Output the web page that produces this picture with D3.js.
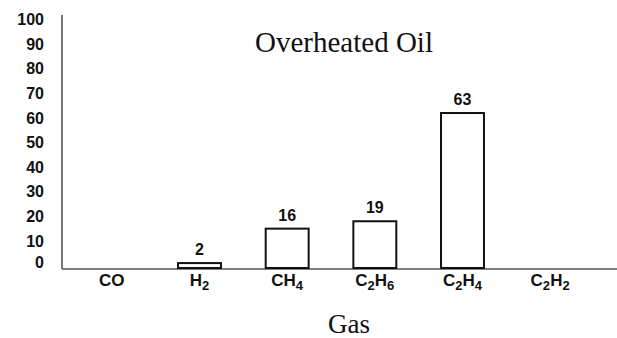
<!DOCTYPE html>
<html>
<head>
<meta charset="utf-8">
<script src="https://cdn.jsdelivr.net/npm/d3@7"></script>
<style>
  html, body { margin: 0; padding: 0; background: #fff; }
  svg { display: block; }
</style>
</head>
<body>
<svg id="chart" width="617" height="338"></svg>
<script>
// Gas names are split into [text, subscript] pieces so the formulas render properly
const gases = [
  [["CO", ""]],
  [["H", "2"]],
  [["CH", "4"]],
  [["C", "2"], ["H", "6"]],
  [["C", "2"], ["H", "4"]],
  [["C", "2"], ["H", "2"]]
];
const gasKeys = ["CO", "H2", "CH4", "C2H6", "C2H4", "C2H2"];
const percents = [null, 2, 16, 19, 63, null];
const yTicks = [0, 10, 20, 30, 40, 50, 60, 70, 80, 90, 100];
const title = "Overheated Oil";
const xTitle = "Gas";

const svg = d3.select("#chart");
const axisX0 = 62, axisY0 = 269;

const x = d3.scaleBand()
  .domain(gasKeys)
  .range([68, 594])
  .paddingInner(0.51)
  .paddingOuter(0.255);

const y = d3.scaleLinear().domain([0, 100]).range([268, 22]);

const sans = "'Liberation Sans', Arial, Helvetica, sans-serif";
const serif = "'Liberation Serif', 'Times New Roman', Times, serif";

// y tick labels (no tick marks, labels sit slightly above their level)
svg.append("g")
  .selectAll("text")
  .data(yTicks)
  .join("text")
  .attr("x", 44)
  .attr("y", d => y(d) - 1 + (d === 0 ? -3 : 0))
  .attr("text-anchor", "end")
  .attr("font-family", sans)
  .attr("font-weight", "bold")
  .attr("font-size", 16)
  .attr("fill", "#111")
  .attr("dominant-baseline", "middle")
  .text(d => d);

// axis lines
svg.append("line")
  .attr("x1", axisX0).attr("x2", axisX0)
  .attr("y1", 15).attr("y2", axisY0)
  .attr("stroke", "#555").attr("stroke-width", 1.6);
svg.append("line")
  .attr("x1", axisX0).attr("x2", 617)
  .attr("y1", axisY0).attr("y2", axisY0)
  .attr("stroke", "#555").attr("stroke-width", 1.6);

// bars
const barData = gasKeys.map((k, i) => ({ key: k, value: percents[i] }))
  .filter(d => d.value !== null);

svg.append("g")
  .selectAll("rect")
  .data(barData)
  .join("rect")
  .attr("x", d => x(d.key))
  .attr("width", x.bandwidth())
  .attr("y", d => y(d.value))
  .attr("height", d => y(0) - y(d.value))
  .attr("fill", "#fff")
  .attr("stroke", "#111")
  .attr("stroke-width", 2);

// value labels
svg.append("g")
  .selectAll("text")
  .data(barData)
  .join("text")
  .attr("x", d => x(d.key) + x.bandwidth() / 2)
  .attr("y", d => y(d.value) - 8)
  .attr("text-anchor", "middle")
  .attr("font-family", sans)
  .attr("font-weight", "bold")
  .attr("font-size", 16)
  .attr("fill", "#111")
  .text(d => d.value);

// category labels with subscripts
const catG = svg.append("g");
gasKeys.forEach((k, i) => {
  const t = catG.append("text")
    .attr("x", x(k) + x.bandwidth() / 2)
    .attr("y", 286)
    .attr("text-anchor", "middle")
    .attr("font-family", sans)
    .attr("font-weight", "bold")
    .attr("font-size", 17)
    .attr("fill", "#111");
  gases[i].forEach(([main, sub]) => {
    t.append("tspan").attr("dy", 0).text(main);
    if (sub) {
      t.append("tspan").attr("dy", 4).attr("font-size", 13).text(sub);
      t.append("tspan").attr("dy", -4).attr("font-size", 1).text("\u200A");
    }
  });
});

// chart title
svg.append("text")
  .attr("x", 344)
  .attr("y", 52)
  .attr("text-anchor", "middle")
  .attr("font-family", serif)
  .attr("font-size", 29)
  .attr("fill", "#111")
  .text(title);

// x axis title
svg.append("text")
  .attr("x", 349)
  .attr("y", 333)
  .attr("text-anchor", "middle")
  .attr("font-family", serif)
  .attr("font-size", 27)
  .attr("fill", "#111")
  .text(xTitle);
</script>
</body>
</html>
